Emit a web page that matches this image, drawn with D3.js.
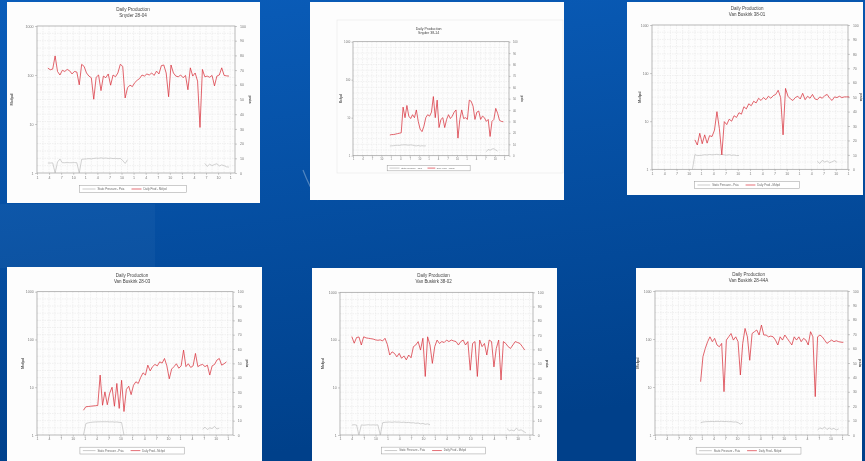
<!DOCTYPE html>
<html>
<head>
<meta charset="utf-8">
<script src="https://cdn.jsdelivr.net/npm/d3@7"></script>
<style>
  body { margin: 0; background: #00489a; }
  svg { display: block; font-family: "Liberation Sans", Arial, sans-serif; }
</style>
</head>
<body>
<svg id="slide" width="865" height="461"></svg>
<script>
// ---- data ----
const xTickLabels = ["1", "4", "7", "10", "1", "4", "7", "10", "1", "4", "7", "10", "1", "4", "7", "10", "1"];
const leftTicks = [1, 10, 100, 1000];
const rightTicks = [0, 10, 20, 30, 40, 50, 60, 70, 80, 90, 100];
const wellNames = ["Snyder 28-04", "Snyder 38-14", "Van Buskirk 38-01", "Van Buskirk 28-03", "Van Buskirk 38-02", "Van Buskirk 28-44A"];
const legendLabels = ["Static Pressure - Psia", "Daily Prod - Mcfpd"];

// daily production (Mcfpd), one value every 0.2 x-tick, from prodStart
const prodStart = [0.9, 3.9, 3.5, 3.9, 1.0, 3.9];
const snyder2804Prod = [138, 128, 132, 245, 118, 100, 125, 118, 130, 122, 105, 118, 115, 63, 165, 150,
  110, 95, 88, 32, 90, 100, 48, 95, 88, 105, 62, 100, 92, 110, 165, 150, 34, 55, 62, 58, 70, 78, 85,
  100, 95, 105, 100, 110, 98, 120, 105, 155, 160, 110, 36, 160, 110, 95, 92, 100, 88, 98, 50, 140, 95,
  110, 75, 8.5, 130, 92, 95, 90, 98, 60, 95, 100, 140, 98, 96, 95];
const snyder3814Prod = [3.5, 3.6, 3.6, 3.7, 3.8, 3.9, 4.0, 19, 10, 21, 11, 9.5, 12, 10, 16, 8, 5, 4.3, 6,
  10, 12, 11, 14, 36, 10, 29, 5.5, 9, 10, 5.5, 9, 12, 9.5, 11, 14, 16, 2.9, 9, 16, 9.5, 10, 9, 29, 27,
  20, 9, 14, 15, 9, 11, 10, 8, 9, 3.2, 8, 9, 17.6, 13, 8.5, 8, 7.8];
const vanBuskirk3801Prod = [4.1, 3.2, 5.6, 3.4, 5.2, 3.5, 5.0, 4.8, 6.5, 15.8, 7.0, 2.0, 9.8, 8.5, 11, 10,
  13, 12, 15, 14, 20, 18, 23, 21, 26, 24, 30, 27, 31, 28, 33, 30, 34, 36, 44, 31, 5.2, 48, 33, 29, 27,
  31, 33, 29, 38, 28, 33, 30, 36, 29, 28, 32, 30, 34, 36, 30, 27, 32, 31, 33, 31, 32, 32, 32];
const vanBuskirk2803Prod = [3.3, 3.9, 3.95, 4.0, 4.05, 4.1, 4.15, 18, 4.2, 8, 4.3, 7.5, 10, 4.0, 12, 3.6,
  14, 3.1, 9, 10.5, 7.0, 11, 13, 12, 16, 20, 18, 29, 22, 27, 30, 28, 34, 32, 40, 28, 15, 24, 27, 31, 25,
  28, 60, 27, 31, 26, 28, 51, 27, 29, 30, 27, 29, 18, 28, 30, 37, 40, 29, 31, 34];
const vanBuskirk3802Prod = [117, 85, 112, 115, 78, 116, 110, 108, 106, 104, 100, 98, 100, 95, 108, 80, 48,
  56, 52, 44, 52, 41, 46, 38, 48, 42, 72, 78, 92, 61, 108, 17, 116, 78, 32, 72, 99, 84, 92, 88, 99, 92,
  99, 95, 92, 78, 92, 99, 78, 92, 23, 84, 92, 17, 99, 72, 84, 48, 99, 92, 27, 66, 99, 14.3, 92, 84, 72,
  66, 78, 92, 88, 84, 72, 61];
const vanBuskirk2844Prod = [12.9, 43, 64, 88, 111, 88, 103, 75, 69, 81, 8, 95, 111, 130, 95, 111, 88, 17.8,
  81, 166, 111, 36, 130, 142, 154, 121, 195, 121, 121, 111, 115, 111, 95, 75, 111, 95, 121, 103, 88, 75,
  111, 95, 111, 88, 103, 95, 75, 142, 111, 6.3, 111, 121, 111, 95, 81, 88, 95, 88, 92, 88, 86, 85];

// static pressure (psia), segments with a start and one value every 0.2 x-tick
const snyder2804Press = [
  { start: 0.9, values: [6.8, 6.8, 6.9, 0, 7.5, 9.5, 7.0, 7.0, 7.1, 7.0, 7.0, 7.1, 7.0, 0, 9.3, 9.5, 9.6, 9.8,
    9.6, 9.9, 10.1, 10.0, 10.3, 10.0, 10.2, 9.9, 10.1, 9.8, 10.0, 9.7, 9.9, 8.5, 6.5, 9.0] },
  { start: 13.9, values: [6.5, 4.5, 6.0, 5.0, 5.8, 6.3, 4.8, 5.5, 5.0, 4.2, 4.0] }
];
const snyder3814Press = [
  { start: 3.9, values: [8.5, 8.7, 8.8, 9.0, 9.2, 9.0, 9.4, 9.5, 9.6, 9.4, 9.2, 9.5, 9.3, 8.8, 8.6, 9.0, 8.4, 8.8, 8.5, 8.7] },
  { start: 14.1, values: [3.5, 5.5, 4.8, 5.8, 6.2, 5.0, 4.0] }
];
const vanBuskirk3801Press = [
  { start: 3.3, values: [0, 10.2, 9.5, 9.6, 9.8, 10.1, 9.9, 10.3, 10.0, 10.2, 10.4, 10.1, 10.3, 10.0, 9.8, 10.1, 9.7, 9.9, 9.5, 9.6] },
  { start: 13.5, values: [5.5, 4.0, 6.2, 5.0, 5.8, 4.5, 5.2, 6.0, 4.8] }
];
const vanBuskirk2803Press = [
  { start: 3.9, values: [0, 8.0, 8.5, 8.8, 9.0, 9.1, 9.2, 9.2, 9.3, 9.2, 9.3, 9.1, 9.2, 9.0, 9.1, 8.8, 8.7, 0] },
  { start: 13.9, values: [4.0, 5.5, 3.8, 5.0, 4.5, 6.0, 4.2, 4.8] }
];
const vanBuskirk3802Press = [
  { start: 1.0, values: [7.0, 7.2, 7.0, 0, 7.1, 6.9, 7.0, 7.2, 7.0, 7.1, 7.0, 7.1, 0, 8.6, 8.9, 9.0, 9.1, 8.9,
    9.2, 9.0, 9.1, 8.8, 9.0, 8.7, 8.8, 8.5, 8.6, 8.2, 8.4, 7.8, 8.1, 7.5, 7.8, 7.2] },
  { start: 14.1, values: [4.5, 3.0, 3.5, 2.8, 4.8, 3.2, 3.6, 2.5, 1.5] }
];
const vanBuskirk2844Press = [
  { start: 3.9, values: [8.5, 9.0, 9.2, 9.3, 9.3, 9.4, 9.3, 9.5, 9.4, 9.5, 9.3, 9.4, 9.2, 9.3, 9.0, 9.1, 8.6, 7.5, 8.5] },
  { start: 13.9, values: [3.5, 5.0, 4.2, 5.5, 3.8, 4.9, 4.0, 4.6, 3.5, 4.2] }
];

const prodSeries = [snyder2804Prod, snyder3814Prod, vanBuskirk3801Prod, vanBuskirk2803Prod, vanBuskirk3802Prod, vanBuskirk2844Prod];
const pressSeries = [snyder2804Press, snyder3814Press, vanBuskirk3801Press, vanBuskirk2803Press, vanBuskirk3802Press, vanBuskirk2844Press];

// ---- where each picture sits on the slide (layout only) ----
const panels = [
  { x: 7, y: 2, w: 253, h: 201, l: 37, r: 235, t: 26, b: 173, xMax: 16.4, labL: 12, labR: 250 },
  { x: 310, y: 2, w: 254, h: 198, l: 353, r: 509, t: 41.7, b: 155.7, xMax: 16.5, labL: 341, labR: 522,
    frame: [337, 20, 226, 153] },
  { x: 627, y: 2, w: 236, h: 193, l: 652, r: 848, t: 25, b: 169.3, xMax: 16.0, labL: 640, labR: 861 },
  { x: 7, y: 267, w: 255, h: 194, l: 37, r: 233, t: 291.7, b: 435, xMax: 16.45, labL: 23, labR: 247 },
  { x: 312, y: 268, w: 245, h: 193, l: 340, r: 533, t: 292.3, b: 435, xMax: 16.3, labL: 323, labR: 547 },
  { x: 636, y: 268, w: 226, h: 193, l: 655, r: 848, t: 291, b: 435, xMax: 16.5, labL: 638, labR: 860 }
];

const STEP = 0.2;
const RED = "#d8323c";
const svg = d3.select("#slide");

const defs = svg.append("defs");
const bg = defs.append("linearGradient").attr("id", "bg")
  .attr("x1", 0).attr("y1", 0).attr("x2", 0.25).attr("y2", 1);
bg.append("stop").attr("offset", "0%").attr("stop-color", "#0a5dba");
bg.append("stop").attr("offset", "100%").attr("stop-color", "#00408a");
defs.append("filter").attr("id", "soft")
  .append("feGaussianBlur").attr("stdDeviation", 0.3);

svg.append("rect").attr("width", 865).attr("height", 461).attr("fill", "url(#bg)");
svg.append("rect").attr("x", 0).attr("y", 204).attr("width", 155).attr("height", 64)
  .attr("fill", "#ffffff").attr("opacity", 0.035);

function drawPanel(p, i) {
  const s = (p.b - p.t) / 147;
  svg.append("rect")
    .attr("x", p.x).attr("y", p.y).attr("width", p.w).attr("height", p.h)
    .attr("fill", "#fdfdfd");

  const g = svg.append("g").attr("filter", "url(#soft)");
  const x = d3.scaleLinear().domain([0, p.xMax]).range([p.l, p.r]);
  const yL = d3.scaleLog().domain([1, 1000]).range([p.b, p.t]);
  const yR = d3.scaleLinear().domain([0, 100]).range([p.b, p.t]);

  // the smaller picture has a faint frame round it
  if (p.frame) {
    g.append("rect")
      .attr("x", p.frame[0]).attr("y", p.frame[1]).attr("width", p.frame[2]).attr("height", p.frame[3])
      .attr("fill", "none").attr("stroke", "#e8e8e8").attr("stroke-width", 0.6);
  }

  // grid
  g.append("g").selectAll("line").data(d3.range(5, 100, 5)).join("line")
    .attr("x1", p.l).attr("x2", p.r)
    .attr("y1", d => yR(d)).attr("y2", d => yR(d))
    .attr("stroke", "#e2e2e2").attr("stroke-width", 0.5).attr("stroke-dasharray", "1.5,1");
  g.append("g").selectAll("line").data(d3.range(0.5, p.xMax, 0.5)).join("line")
    .attr("x1", d => x(d)).attr("x2", d => x(d))
    .attr("y1", p.t).attr("y2", p.b)
    .attr("stroke", "#e2e2e2").attr("stroke-width", 0.5).attr("stroke-dasharray", "1.5,1");
  g.append("rect")
    .attr("x", p.l).attr("y", p.t).attr("width", p.r - p.l).attr("height", p.b - p.t)
    .attr("fill", "none").attr("stroke", "#9a9a9a").attr("stroke-width", 0.7);

  // axes
  const fs = 3.6 * s;
  const styleAxis = a => {
    a.select(".domain").remove();
    a.selectAll("line").attr("stroke", "#999").attr("stroke-width", 0.5);
    a.selectAll("text").attr("fill", "#777").attr("font-size", fs).attr("font-family", "Liberation Sans, Arial, sans-serif");
  };
  g.append("g").attr("transform", `translate(0,${p.b})`)
    .call(d3.axisBottom(x).tickValues(d3.range(17)).tickFormat(d => xTickLabels[d])
      .tickSize(1.8 * s).tickPadding(1.2 * s))
    .call(styleAxis);
  g.append("g").attr("transform", `translate(${p.l},0)`)
    .call(d3.axisLeft(yL).tickValues(leftTicks).tickFormat(d3.format("d"))
      .tickSize(2 * s).tickPadding(1.5 * s))
    .call(styleAxis);
  g.append("g").attr("transform", `translate(${p.r},0)`)
    .call(d3.axisRight(yR).tickValues(rightTicks).tickSize(2 * s).tickPadding(3 * s))
    .call(styleAxis);

  g.append("text")
    .attr("transform", `translate(${p.labL},${(p.t + p.b) / 2}) rotate(-90)`)
    .attr("text-anchor", "middle").attr("dy", "0.35em").attr("font-size", 4 * s).attr("font-weight", "bold")
    .attr("fill", "#555").text("Mcfpd");
  g.append("text")
    .attr("transform", `translate(${p.labR},${(p.t + p.b) / 2}) rotate(90)`)
    .attr("text-anchor", "middle").attr("dy", "0.35em").attr("font-size", 4 * s).attr("font-weight", "bold")
    .attr("fill", "#555").text("psia");

  // titles
  const cx = (p.l + p.r) / 2 - 3 * s;
  g.append("text").attr("x", cx).attr("y", p.t - 17 * s).attr("dy", "0.35em")
    .attr("text-anchor", "middle").attr("font-size", 4.6 * s).attr("fill", "#444")
    .text("Daily Production");
  g.append("text").attr("x", cx).attr("y", p.t - 11 * s).attr("dy", "0.35em")
    .attr("text-anchor", "middle").attr("font-size", 4.6 * s).attr("fill", "#444")
    .text(wellNames[i]);

  // series
  const pressLine = d3.line().x(d => x(d[0])).y(d => yR(d[1]));
  pressSeries[i].forEach(seg => {
    g.append("path")
      .datum(seg.values.map((v, k) => [seg.start + k * STEP, v]))
      .attr("d", pressLine).attr("fill", "none")
      .attr("stroke", "#b4b4b4").attr("stroke-width", 0.6);
  });
  const prodLine = d3.line().x(d => x(d[0])).y(d => yL(d[1]));
  g.append("path")
    .datum(prodSeries[i].map((v, k) => [prodStart[i] + k * STEP, v]))
    .attr("d", prodLine).attr("fill", "none")
    .attr("stroke", RED).attr("stroke-width", 0.75).attr("stroke-linejoin", "round");

  // legend
  const lx = cx - 53.5 * s, ly = p.b + 12.5 * s, lh = 7 * s;
  g.append("rect").attr("x", lx).attr("y", ly).attr("width", 107 * s).attr("height", lh)
    .attr("fill", "#fff").attr("stroke", "#999").attr("stroke-width", 0.5);
  const items = [
    { x0: 3, x1: 16, tx: 18, color: "#b4b4b4", label: legendLabels[0] },
    { x0: 52, x1: 62, tx: 64, color: RED, label: legendLabels[1] }
  ];
  items.forEach(it => {
    g.append("line").attr("x1", lx + it.x0 * s).attr("x2", lx + it.x1 * s)
      .attr("y1", ly + lh / 2).attr("y2", ly + lh / 2)
      .attr("stroke", it.color).attr("stroke-width", 0.7);
    g.append("text").attr("x", lx + it.tx * s).attr("y", ly + lh / 2).attr("dy", "0.35em")
      .attr("font-size", 2.8 * s).attr("fill", "#666").text(it.label);
  });
}

panels.forEach(drawPanel);

// faint swoosh of the slide template
svg.append("path")
  .attr("d", "M303,170 Q309,186 318,200")
  .attr("fill", "none").attr("stroke", "#ffffff").attr("stroke-opacity", 0.3).attr("stroke-width", 1.2);
</script>
</body>
</html>
